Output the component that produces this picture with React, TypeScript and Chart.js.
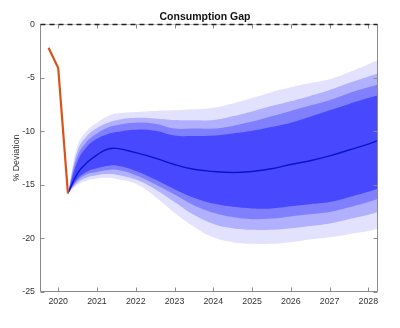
import React, { useEffect, useRef } from "react";
import { Chart, registerables } from "chart.js";

Chart.register(...registerables);

// Historical path (orange)
const historyYears = [2019.75, 2020.0, 2020.25];
const historyValues = [-2.2, -4.1, -15.8];

// Forecast dates
const forecastYears = [
  2020.25, 2020.5, 2020.75, 2021, 2021.25, 2021.5, 2022, 2022.5, 2023, 2023.5,
  2024, 2024.5, 2025, 2025.5, 2026, 2026.5, 2027, 2027.5, 2028, 2028.25,
];

// Median forecast (blue line)
const medianValues = [
  -15.8, -13.9, -12.9, -12.2, -11.7, -11.6, -12.0, -12.5, -13.1, -13.55,
  -13.75, -13.85, -13.75, -13.5, -13.1, -12.75, -12.3, -11.75, -11.2, -10.85,
];

// Fan bands, from the outermost (lightest) to the innermost (darkest)
const upper4 = [
  -15.8, -11.3, -9.9, -9.2, -8.65, -8.35, -8.2, -8.1, -8.05, -7.95,
  -7.8, -7.4, -6.9, -6.35, -5.9, -5.5, -5.15, -4.5, -3.75, -3.36,
];
const lower4 = [
  -15.8, -15.0, -14.6, -14.4, -14.35, -14.45, -14.9, -16.1, -17.6, -18.9,
  -19.9, -20.35, -20.5, -20.5, -20.35, -20.1, -19.9, -19.6, -19.3, -19.1,
];
const upper3 = [
  -15.8, -11.8, -10.4, -9.7, -9.25, -8.97, -8.75, -8.8, -8.95, -8.97,
  -8.95, -8.6, -8.15, -7.65, -7.2, -6.7, -6.15, -5.5, -4.9, -4.6,
];
const lower3 = [
  -15.8, -14.8, -14.3, -14.1, -14.0, -14.05, -14.5, -15.4, -16.6, -17.8,
  -18.65, -19.05, -19.2, -19.2, -19.05, -18.85, -18.6, -18.2, -17.8, -17.54,
];
const upper2 = [
  -15.8, -12.3, -10.9, -10.2, -9.7, -9.44, -9.2, -9.3, -9.75, -9.75,
  -9.75, -9.5, -9.1, -8.6, -8.1, -7.6, -7.1, -6.45, -5.9, -5.64,
];
const lower2 = [
  -15.8, -14.6, -14.0, -13.8, -13.65, -13.6, -14.1, -14.95, -15.9, -16.9,
  -17.6, -18.0, -18.2, -18.15, -17.95, -17.75, -17.54, -17.1, -16.6, -16.3,
];
const upper1 = [
  -15.8, -12.8, -11.4, -10.7, -10.3, -10.07, -9.85, -9.95, -10.4, -10.45,
  -10.4, -10.2, -9.95, -9.6, -9.2, -8.65, -8.05, -7.45, -6.9, -6.64,
];
const lower1 = [
  -15.8, -14.4, -13.75, -13.45, -13.25, -13.2, -13.7, -14.5, -15.4, -16.2,
  -16.75, -17.05, -17.2, -17.2, -17.0, -16.8, -16.6, -16.15, -15.65, -15.36,
];

const xTickValues = [2020, 2021, 2022, 2023, 2024, 2025, 2026, 2027, 2028];
const yTickValues = [0, -5, -10, -15, -20, -25];

const bandColors = ["#4848ff", "#8080ff", "#b0b0ff", "#e2e2fe"];

const toPoints = (xs: number[], ys: number[]) => xs.map((x, i) => ({ x, y: ys[i] }));

const framePlugin = {
  id: "matlabFrame",
  afterDatasetsDraw(chart: any) {
    const { ctx, chartArea, scales } = chart;
    const { left, right, top, bottom } = chartArea;
    const x = scales.x;
    const y = scales.y;
    const L = Math.round(left) + 0.5;
    const R = Math.round(right) - 0.5;
    const T = Math.round(top) + 0.5;
    const B = Math.round(bottom) - 0.5;
    ctx.save();
    ctx.lineWidth = 1;
    ctx.strokeStyle = "#8a8a8a";
    ctx.beginPath();
    ctx.moveTo(L, T);
    ctx.lineTo(L, B);
    ctx.lineTo(R, B);
    ctx.lineTo(R, T);
    ctx.stroke();
    ctx.strokeStyle = "#c8c8c8";
    ctx.beginPath();
    ctx.moveTo(L, T);
    ctx.lineTo(R, T);
    ctx.stroke();
    ctx.strokeStyle = "#8a8a8a";
    ctx.beginPath();
    x.ticks.forEach((t: any) => {
      const px = Math.round(x.getPixelForValue(t.value)) + 0.5;
      ctx.moveTo(px, B);
      ctx.lineTo(px, B - 4);
      ctx.moveTo(px, T);
      ctx.lineTo(px, T + 4);
    });
    y.ticks.forEach((t: any) => {
      const py = Math.round(y.getPixelForValue(t.value)) + 0.5;
      ctx.moveTo(L, py);
      ctx.lineTo(L + 4, py);
      ctx.moveTo(R, py);
      ctx.lineTo(R - 4, py);
    });
    ctx.stroke();
    // dashed zero line
    const zy = Math.round(y.getPixelForValue(0)) + 0.5;
    ctx.strokeStyle = "#222222";
    ctx.lineWidth = 1.3;
    ctx.setLineDash([5, 4]);
    ctx.beginPath();
    ctx.moveTo(L, zy);
    ctx.lineTo(R, zy);
    ctx.stroke();
    ctx.restore();
  },
};

export default function App() {
  const canvasRef = useRef<HTMLCanvasElement | null>(null);

  useEffect(() => {
    if (!canvasRef.current) return;
    const band = (ys: number[], color: string, fillNext: boolean) => ({
      data: toPoints(forecastYears, ys),
      borderWidth: 0,
      borderColor: color,
      backgroundColor: color,
      pointRadius: 0,
      fill: fillNext ? "+1" : false,
      tension: 0.4,
    });
    const chart = new Chart(canvasRef.current, {
      type: "line",
      data: {
        datasets: [
          {
            label: "History",
            data: toPoints(historyYears, historyValues),
            borderColor: "#d95319",
            borderWidth: 2.2,
            pointRadius: 0,
            fill: false,
            tension: 0,
          },
          {
            label: "Median",
            data: toPoints(forecastYears, medianValues),
            borderColor: "#0a14c8",
            borderWidth: 1.4,
            pointRadius: 0,
            fill: false,
            tension: 0.4,
          },
          band(upper1, bandColors[0], true),
          band(lower1, bandColors[0], false),
          band(upper2, bandColors[1], true),
          band(lower2, bandColors[1], false),
          band(upper3, bandColors[2], true),
          band(lower3, bandColors[2], false),
          band(upper4, bandColors[3], true),
          band(lower4, bandColors[3], false),
        ] as any,
      },
      options: {
        animation: false,
        responsive: false,
        maintainAspectRatio: false,
        layout: { padding: { left: 10, right: 0, top: 0, bottom: 0 } },
        plugins: {
          legend: { display: false },
          tooltip: { enabled: false },
          title: {
            display: true,
            text: "Consumption Gap",
            color: "#111111",
            font: { family: "Liberation Sans", size: 10.5, weight: "bold" },
            padding: { top: 11, bottom: 0.5 },
          },
        },
        scales: {
          x: {
            type: "linear",
            min: 2019.53,
            max: 2028.25,
            grid: { display: false, drawTicks: false },
            border: { display: false },
            afterBuildTicks: (scale: any) => {
              scale.ticks = xTickValues.map((v) => ({ value: v }));
            },
            afterFit: (scale: any) => {
              scale.height = 36;
            },
            ticks: {
              padding: 4,
              color: "#333333",
              font: { family: "Liberation Sans", size: 8.8 },
              maxRotation: 0,
              autoSkip: false,
              callback: (v: any) => String(v),
            },
          },
          y: {
            type: "linear",
            min: -25,
            max: 0,
            grid: { display: false, drawTicks: false },
            border: { display: false },
            afterBuildTicks: (scale: any) => {
              scale.ticks = yTickValues.map((v) => ({ value: v }));
            },
            afterFit: (scale: any) => {
              scale.width = 30;
            },
            title: {
              display: true,
              text: "% Deviation",
              color: "#333333",
              font: { family: "Liberation Sans", size: 8.8 },
              padding: { top: 1, bottom: 0 },
            },
            ticks: {
              padding: 5,
              color: "#333333",
              font: { family: "Liberation Sans", size: 8.8 },
              callback: (v: any) => String(v),
            },
          },
          y2: {
            type: "linear",
            position: "right",
            min: -25,
            max: 0,
            grid: { display: false, drawTicks: false },
            border: { display: false },
            ticks: { display: false },
            afterFit: (scale: any) => {
              scale.width = 22;
            },
          },
        },
      } as any,
      plugins: [framePlugin],
    });
    return () => chart.destroy();
  }, []);

  return (
    <div style={{ position: "fixed", left: 0, top: 0, width: 400, height: 328, background: "#ffffff" }}>
      <canvas ref={canvasRef} width={400} height={328} />
    </div>
  );
}
